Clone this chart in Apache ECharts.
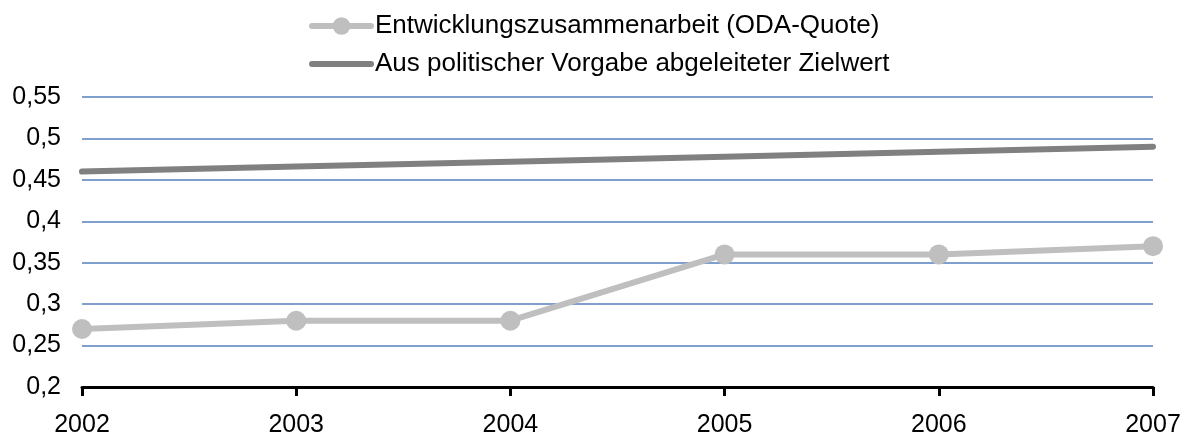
<!DOCTYPE html>
<html>
<head>
<meta charset="utf-8">
<script src="https://cdn.jsdelivr.net/npm/echarts@6/dist/echarts.min.js"></script>
<style>
  html, body { margin: 0; padding: 0; background: #fff; }
  #chart { width: 1184px; height: 438px; }
</style>
</head>
<body>
<div id="chart"></div>
<script>
// Jahre der Zeitreihe
const years = ['2002', '2003', '2004', '2005', '2006', '2007'];
// ODA-Quote (Anteil am Bruttonationaleinkommen, in %)
const odaQuote = [0.27, 0.28, 0.28, 0.36, 0.36, 0.37];
// Zielwert, abgeleitet aus der politischen Vorgabe
const zielwert = [0.46, 0.466, 0.472, 0.478, 0.484, 0.49];
// Reihennamen
const seriesNames = ['Entwicklungszusammenarbeit (ODA-Quote)', 'Aus politischer Vorgabe abgeleiteter Zielwert'];

const font = '"Liberation Sans", Arial, sans-serif';
const chart = echarts.init(document.getElementById('chart'), null, { renderer: 'canvas' });

chart.setOption({
  animation: false,
  backgroundColor: '#ffffff',
  textStyle: { fontFamily: font },
  legend: {
    orient: 'vertical',
    left: 304,
    top: 8,
    itemWidth: 59,
    itemHeight: 22,
    itemGap: 12,
    lineStyle: { width: 6, cap: 'round' },
    textStyle: { fontSize: 26, color: '#000', fontFamily: font, padding: [0, 0, 0, -1] },
    data: [
      { name: seriesNames[0] },
      { name: seriesNames[1], itemStyle: { opacity: 0 } }
    ]
  },
  grid: { left: 82, right: 31, top: 97, bottom: 49, containLabel: false },
  xAxis: {
    type: 'category',
    data: years,
    boundaryGap: false,
    axisLine: { show: true, lineStyle: { color: '#000', width: 3 } },
    axisTick: { show: true, length: 9, lineStyle: { color: '#000', width: 3 } },
    axisLabel: { fontSize: 25, color: '#000', margin: 26, fontFamily: font },
    splitLine: { show: false }
  },
  yAxis: {
    type: 'value',
    min: 0.2,
    max: 0.55,
    interval: 0.05,
    axisLine: { show: false },
    axisTick: { show: false },
    axisLabel: {
      fontSize: 25, color: '#000', margin: 21, fontFamily: font,
      formatter: v => String(+v.toFixed(2)).replace('.', ',')
    },
    splitLine: { show: true, lineStyle: { color: '#7f9fcf', width: 2 } }
  },
  series: [
    {
      name: seriesNames[0],
      type: 'line',
      data: odaQuote,
      symbol: 'circle',
      symbolSize: 20,
      lineStyle: { color: '#bfbfbf', width: 6, cap: 'round', join: 'round' },
      itemStyle: { color: '#bfbfbf' },
      z: 3
    },
    {
      name: seriesNames[1],
      type: 'line',
      data: zielwert,
      symbol: 'none',
      showSymbol: false,
      lineStyle: { color: '#808080', width: 6, cap: 'round' },
      itemStyle: { color: '#808080' },
      z: 2
    }
  ]
});
</script>
</body>
</html>
